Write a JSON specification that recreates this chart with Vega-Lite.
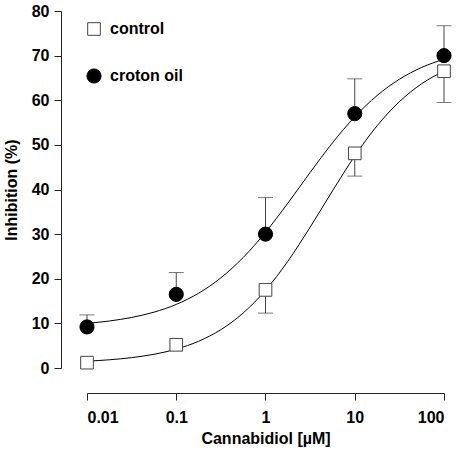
{
  "$schema": "https://vega.github.io/schema/vega-lite/v6.json",
  "width": 357,
  "height": 357,
  "autosize": "none",
  "padding": {"left": 87, "top": 11, "right": 16, "bottom": 82},
  "background": "white",
  "config": {
    "view": {"stroke": null},
    "font": "Liberation Sans",
    "axis": {
      "grid": false,
      "domainColor": "#222",
      "tickColor": "#222",
      "tickSize": 7,
      "labelFont": "Liberation Sans",
      "labelFontSize": 16,
      "labelFontWeight": "bold",
      "labelColor": "black",
      "titleFont": "Liberation Sans",
      "titleFontSize": 16,
      "titleFontWeight": "bold",
      "titleColor": "black"
    },
    "legend": {
      "orient": "none",
      "legendX": -1,
      "legendY": 10,
      "padding": 0,
      "rowPadding": 28,
      "labelFont": "Liberation Sans",
      "labelFontSize": 16,
      "labelFontWeight": "bold",
      "labelColor": "black",
      "labelOffset": 8,
      "symbolStrokeWidth": 1,
      "title": null
    }
  },
  "datasets": {
    "points": [
      {"series": "control", "conc": 0.01, "mean": 1.2, "err": null},
      {"series": "control", "conc": 0.1, "mean": 5.2, "err": null},
      {"series": "control", "conc": 1, "mean": 17.5, "err": 12.3},
      {"series": "control", "conc": 10, "mean": 48.1, "err": 43.0},
      {"series": "control", "conc": 100, "mean": 66.5, "err": 59.5},
      {"series": "croton oil", "conc": 0.01, "mean": 9.2, "err": 11.9},
      {"series": "croton oil", "conc": 0.1, "mean": 16.5, "err": 21.4},
      {"series": "croton oil", "conc": 1, "mean": 30.0, "err": 38.2},
      {"series": "croton oil", "conc": 10, "mean": 57.0, "err": 64.8},
      {"series": "croton oil", "conc": 100, "mean": 70.0, "err": 76.7}
    ],
    "curves": [
      {"series": "control", "conc": 0.01, "fit": 1.53},
      {"series": "control", "conc": 0.01778, "fit": 1.84},
      {"series": "control", "conc": 0.03162, "fit": 2.32},
      {"series": "control", "conc": 0.05623, "fit": 3.07},
      {"series": "control", "conc": 0.1, "fit": 4.23},
      {"series": "control", "conc": 0.1778, "fit": 5.99},
      {"series": "control", "conc": 0.3162, "fit": 8.59},
      {"series": "control", "conc": 0.5623, "fit": 12.32},
      {"series": "control", "conc": 1, "fit": 17.41},
      {"series": "control", "conc": 1.778, "fit": 23.91},
      {"series": "control", "conc": 3.162, "fit": 31.55},
      {"series": "control", "conc": 5.623, "fit": 39.67},
      {"series": "control", "conc": 10, "fit": 47.5},
      {"series": "control", "conc": 17.78, "fit": 54.28},
      {"series": "control", "conc": 31.62, "fit": 59.68},
      {"series": "control", "conc": 56.23, "fit": 63.7},
      {"series": "control", "conc": 100, "fit": 66.53},
      {"series": "croton oil", "conc": 0.01, "fit": 10.0},
      {"series": "croton oil", "conc": 0.01778, "fit": 10.53},
      {"series": "croton oil", "conc": 0.03162, "fit": 11.33},
      {"series": "croton oil", "conc": 0.05623, "fit": 12.51},
      {"series": "croton oil", "conc": 0.1, "fit": 14.25},
      {"series": "croton oil", "conc": 0.1778, "fit": 16.75},
      {"series": "croton oil", "conc": 0.3162, "fit": 20.2},
      {"series": "croton oil", "conc": 0.5623, "fit": 24.76},
      {"series": "croton oil", "conc": 1, "fit": 30.41},
      {"series": "croton oil", "conc": 1.778, "fit": 36.93},
      {"series": "croton oil", "conc": 3.162, "fit": 43.81},
      {"series": "croton oil", "conc": 5.623, "fit": 50.44},
      {"series": "croton oil", "conc": 10, "fit": 56.28},
      {"series": "croton oil", "conc": 17.78, "fit": 61.05},
      {"series": "croton oil", "conc": 31.62, "fit": 64.7},
      {"series": "croton oil", "conc": 56.23, "fit": 67.35},
      {"series": "croton oil", "conc": 100, "fit": 69.21}
    ]
  },
  "encoding": {
    "x": {
      "field": "conc",
      "type": "quantitative",
      "scale": {"type": "log", "domain": [0.01, 100], "nice": false},
      "axis": {
        "title": "Cannabidiol [µM]",
        "values": [0.01, 0.1, 1, 10, 100],
        "format": "~g",
        "offset": 25,
        "labelPadding": 9,
        "titlePadding": 5
      }
    }
  },
  "layer": [
    {
      "data": {"name": "points"},
      "transform": [{"filter": "datum.err != null"}],
      "mark": {"type": "rule", "color": "#444", "strokeWidth": 1},
      "encoding": {
        "y": {"field": "mean", "type": "quantitative"},
        "y2": {"field": "err"}
      }
    },
    {
      "data": {"name": "points"},
      "transform": [{"filter": "datum.err != null"}],
      "mark": {"type": "tick", "orient": "horizontal", "color": "#444", "size": 15, "thickness": 1},
      "encoding": {
        "y": {"field": "err", "type": "quantitative"}
      }
    },
    {
      "data": {"name": "curves"},
      "mark": {"type": "line", "color": "black", "strokeWidth": 1, "interpolate": "monotone"},
      "encoding": {
        "y": {
          "field": "fit",
          "type": "quantitative",
          "scale": {"domain": [0, 80], "nice": false},
          "axis": {
            "title": "Inhibition (%)",
            "values": [0, 10, 20, 30, 40, 50, 60, 70, 80],
            "offset": 26,
            "labelPadding": 5,
            "titlePadding": 12
          }
        },
        "detail": {"field": "series"}
      }
    },
    {
      "data": {"name": "points"},
      "mark": {"type": "point", "filled": true, "strokeWidth": 1, "opacity": 1},
      "encoding": {
        "y": {"field": "mean", "type": "quantitative"},
        "shape": {"field": "series", "type": "nominal", "scale": {"domain": ["control", "croton oil"], "range": ["square", "circle"]}},
        "fill": {"field": "series", "type": "nominal", "scale": {"domain": ["control", "croton oil"], "range": ["white", "black"]}},
        "stroke": {"field": "series", "type": "nominal", "scale": {"domain": ["control", "croton oil"], "range": ["#444", "black"]}},
        "size": {"field": "series", "type": "nominal", "scale": {"domain": ["control", "croton oil"], "range": [160, 200]}}
      }
    }
  ]
}
